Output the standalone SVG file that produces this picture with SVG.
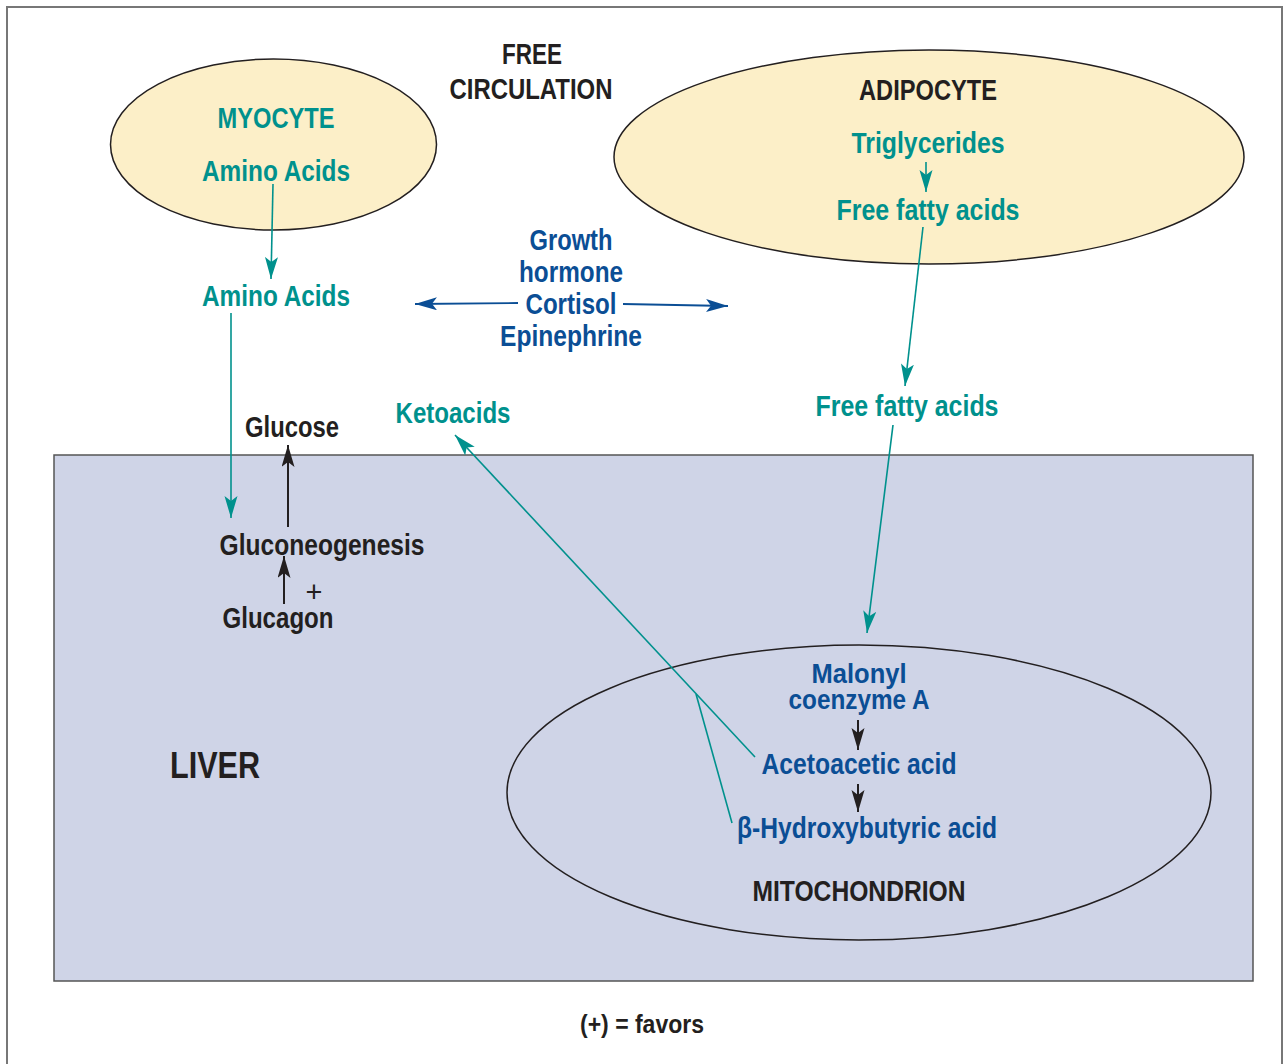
<svg xmlns="http://www.w3.org/2000/svg" width="1285" height="1064" viewBox="0 0 1285 1064">
<style>
text{font-family:"Liberation Sans",Arial,sans-serif;font-weight:bold;text-anchor:middle;font-size:29px}
.teal{fill:#00918d}
.blue{fill:#0b4e95}
.blk{fill:#231f20}
.tl{stroke:#00918d;stroke-width:1.6;fill:none}
.bl{stroke:#0b4e95;stroke-width:1.8;fill:none}
.kl{stroke:#231f20;stroke-width:2;fill:none}
.cell{fill:#fcefc8;stroke:#231f20;stroke-width:1.5}
</style>
<defs>
<marker id="aT" markerUnits="userSpaceOnUse" markerWidth="24" markerHeight="14" refX="22" refY="6.5" orient="auto"><path d="M0,0 L22,6.5 L0,13 L5,6.5 z" fill="#00918d"/></marker>
<marker id="aB" markerUnits="userSpaceOnUse" markerWidth="24" markerHeight="14" refX="22" refY="6.5" orient="auto"><path d="M0,0 L22,6.5 L0,13 L5,6.5 z" fill="#0b4e95"/></marker>
<marker id="aK" markerUnits="userSpaceOnUse" markerWidth="24" markerHeight="14" refX="22" refY="6.5" orient="auto"><path d="M0,0 L22,6.5 L0,13 L5,6.5 z" fill="#231f20"/></marker>
</defs>
<rect x="0" y="0" width="1285" height="1064" fill="#fff"/>
<rect x="7" y="7" width="1275" height="1080" fill="none" stroke="#777" stroke-width="2"/>

<g id="liver">
<rect x="54" y="455" width="1199" height="526" fill="#cfd4e7" stroke="#555" stroke-width="1.5"/>
<text class="blk" x="215" y="778" style="font-size:37px" textLength="90" lengthAdjust="spacingAndGlyphs">LIVER</text>
</g>

<g id="myocyte">
<ellipse class="cell" cx="273.5" cy="144.5" rx="163" ry="85.5"/>
<text class="teal" x="276" y="128" textLength="117" lengthAdjust="spacingAndGlyphs">MYOCYTE</text>
<text class="teal" x="276" y="181" textLength="148" lengthAdjust="spacingAndGlyphs">Amino Acids</text>
</g>

<g id="adipocyte">
<ellipse class="cell" cx="929" cy="157" rx="315" ry="107"/>
<text class="blk" x="928" y="100" textLength="138" lengthAdjust="spacingAndGlyphs">ADIPOCYTE</text>
<text class="teal" x="928" y="153" textLength="153" lengthAdjust="spacingAndGlyphs">Triglycerides</text>
<text class="teal" x="928" y="220" textLength="183" lengthAdjust="spacingAndGlyphs">Free fatty acids</text>
</g>

<g id="mitochondrion">
<ellipse cx="859" cy="792.5" rx="352" ry="147.5" fill="none" stroke="#231f20" stroke-width="1.5"/>
<text class="blue" x="859" y="683" style="font-size:27px" textLength="95" lengthAdjust="spacingAndGlyphs">Malonyl</text>
<text class="blue" x="859" y="709" style="font-size:27px" textLength="141" lengthAdjust="spacingAndGlyphs">coenzyme A</text>
<text class="blue" x="859" y="774" textLength="195" lengthAdjust="spacingAndGlyphs">Acetoacetic acid</text>
<text class="blue" x="867" y="838" textLength="260" lengthAdjust="spacingAndGlyphs">β-Hydroxybutyric acid</text>
<text class="blk" x="859" y="901" textLength="213" lengthAdjust="spacingAndGlyphs">MITOCHONDRION</text>
</g>

<g id="free-circulation">
<text class="blk" x="532" y="64" textLength="60" lengthAdjust="spacingAndGlyphs">FREE</text>
<text class="blk" x="531" y="99" textLength="163" lengthAdjust="spacingAndGlyphs">CIRCULATION</text>
</g>

<g id="amino-acids-circ"><text class="teal" x="276" y="306" textLength="148" lengthAdjust="spacingAndGlyphs">Amino Acids</text></g>
<g id="hormones">
<text class="blue" x="571" y="250" textLength="83" lengthAdjust="spacingAndGlyphs">Growth</text>
<text class="blue" x="571" y="282" textLength="104" lengthAdjust="spacingAndGlyphs">hormone</text>
<text class="blue" x="571" y="314" textLength="91" lengthAdjust="spacingAndGlyphs">Cortisol</text>
<text class="blue" x="571" y="346" textLength="142" lengthAdjust="spacingAndGlyphs">Epinephrine</text>
</g>
<g id="ffa-circ"><text class="teal" x="907" y="416" textLength="183" lengthAdjust="spacingAndGlyphs">Free fatty acids</text></g>
<g id="ketoacids"><text class="teal" x="453" y="423" textLength="115" lengthAdjust="spacingAndGlyphs">Ketoacids</text></g>
<g id="glucose"><text class="blk" x="292" y="437" textLength="94" lengthAdjust="spacingAndGlyphs">Glucose</text></g>
<g id="gluconeogenesis"><text class="blk" x="322" y="555" textLength="205" lengthAdjust="spacingAndGlyphs">Gluconeogenesis</text></g>
<g id="glucagon">
<text class="blk" x="278" y="628" textLength="111" lengthAdjust="spacingAndGlyphs">Glucagon</text>
<text class="blk" x="314" y="602" style="font-size:29px;font-weight:normal">+</text>
</g>
<g id="legend"><text class="blk" x="642" y="1033" style="font-size:25px" textLength="124" lengthAdjust="spacingAndGlyphs">(+) = favors</text></g>

<g id="connectors">
<line class="tl" x1="273" y1="184" x2="271" y2="279" marker-end="url(#aT)"/>
<line class="tl" x1="231" y1="313" x2="231" y2="518" marker-end="url(#aT)"/>
<line class="kl" x1="288" y1="527" x2="288" y2="445" marker-end="url(#aK)"/>
<line class="kl" x1="284" y1="604" x2="284" y2="556" marker-end="url(#aK)"/>
<line class="tl" x1="926" y1="162" x2="926" y2="192" marker-end="url(#aT)"/>
<line class="tl" x1="923" y1="227" x2="905" y2="386" marker-end="url(#aT)"/>
<line class="tl" x1="893" y1="425" x2="867" y2="633" marker-end="url(#aT)"/>
<line class="tl" x1="755" y1="757" x2="455" y2="435" marker-end="url(#aT)"/>
<line class="tl" x1="732" y1="823" x2="696" y2="694"/>
<line class="kl" x1="858" y1="720" x2="858" y2="750" marker-end="url(#aK)"/>
<line class="kl" x1="858" y1="784" x2="858" y2="812" marker-end="url(#aK)"/>
<line class="bl" x1="518" y1="303" x2="415" y2="304" marker-end="url(#aB)"/>
<line class="bl" x1="623" y1="304" x2="728" y2="306" marker-end="url(#aB)"/>
</g>
</svg>
